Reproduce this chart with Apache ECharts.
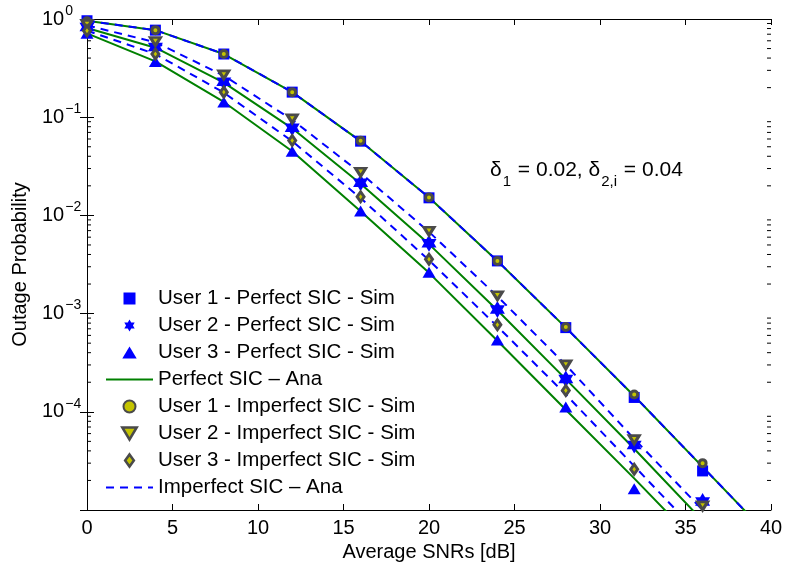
<!DOCTYPE html>
<html>
<head>
<meta charset="utf-8">
<script src="https://cdn.jsdelivr.net/npm/echarts@6/dist/echarts.min.js"></script>
<style>
  html, body { margin: 0; padding: 0; background: #fff; }
  #chart { width: 786px; height: 570px; }
</style>
</head>
<body>
<div id="chart"></div>
<script>
// SNR points (dB) for simulation markers and analytical curves
const snrSim = [0, 4, 8, 12, 16, 20, 24, 28, 32, 36];
const snrAna = [0, 4, 8, 12, 16, 20, 24, 28, 32, 36, 40];

// simulation, perfect SIC
const u1PerfectSim = [0.96, 0.77, 0.44, 0.18, 0.057, 0.0151, 0.00344, 7.2e-4, 1.4e-4, 2.5e-5];
const u2PerfectSim = [0.83, 0.52, 0.23, 0.078, 0.0215, 0.0052, 0.0011, 2.16e-4, 4.6e-5, 1.22e-5];
const u3PerfectSim = [0.715, 0.37, 0.143, 0.045, 0.0111, 0.00263, 5.4e-4, 1.12e-4, 1.65e-5, null];
// simulation, imperfect SIC
const u1ImperfectSim = [0.95, 0.77, 0.44, 0.18, 0.0577, 0.0152, 0.00344, 7.3e-4, 1.5e-4, 3.0e-5];
const u2ImperfectSim = [0.88, 0.59, 0.27, 0.096, 0.0275, 0.0069, 0.00152, 3.0e-4, 5.2e-5, 1.1e-5];
const u3ImperfectSim = [0.76, 0.44, 0.18, 0.058, 0.0155, 0.00357, 7.7e-4, 1.65e-4, 2.6e-5, null];

// analytical curves
const u1Ana = [0.96, 0.77, 0.44, 0.18, 0.057, 0.0152, 0.00344, 7.2e-4, 1.45e-4, 2.75e-5, 5.2e-6];
const u2PerfectAna = [0.81, 0.51, 0.225, 0.077, 0.021, 0.0051, 0.00108, 2.15e-4, 4.2e-5, 7.8e-6, 1.45e-6];
const u3PerfectAna = [0.715, 0.37, 0.143, 0.045, 0.011, 0.0026, 5.3e-4, 1.05e-4, 2.1e-5, 4e-6, 7.5e-7];
const u2ImperfectAna = [0.86, 0.58, 0.265, 0.094, 0.027, 0.0068, 0.0015, 3.0e-4, 5.3e-5, 1.0e-5, 1.9e-6];
const u3ImperfectAna = [0.76, 0.44, 0.178, 0.057, 0.015, 0.0035, 7.4e-4, 1.5e-4, 2.8e-5, 5.2e-6, 1e-6];

// y tick exponents shown as 10^x (bottom decade has no label)
const yExponents = ['0', '\u22121', '\u22122', '\u22123', '\u22124'];

const FONT = 'Liberation Sans, Arial, Helvetica, sans-serif';
const BLUE = '#0000ff';
const GREEN = '#008000';
const YELLOW = '#c4c400';
const GRAY = '#4a4a4a';
const STAR = 'path://M0,-10L2.89,-5L8.66,-5L5.77,0L8.66,5L2.89,5L0,10L-2.89,5L-8.66,5L-5.77,0L-8.66,-5L-2.89,-5Z';
// legend icons (path icons keep their aspect)
const ICON_SQUARE = 'path://M0,0L10,0L10,10L0,10Z';
const ICON_UP = 'path://M6,0L12,10L0,10Z';
const ICON_DOWN = 'path://M0,0L12,0L6,10Z';
const ICON_DIAMOND = 'path://M4,0L8,5.5L4,11L0,5.5Z';
const ICON_CIRCLE = 'path://M5,0A5,5,0,1,1,4.99,0Z';

const pairs = (xs, ys) => xs.map((x, i) => [x, ys[i]]).filter(p => p[1] != null);

// minor ticks of the log axis: 2..9 inside each decade
const minorTicks = [];
for (let e = -5; e < 0; e++) {
  for (let m = 2; m <= 9; m++) minorTicks.push([0, m * Math.pow(10, e)]);
}

const chart = echarts.init(document.getElementById('chart'));

function simSeries(name, ys, symbol, size, style, extra) {
  return Object.assign({
    name: name,
    type: 'scatter',
    data: pairs(snrSim, ys),
    symbol: symbol,
    symbolSize: size,
    itemStyle: Object.assign({ opacity: 1 }, style),
    z: 5
  }, extra || {});
}

function anaSeries(name, ys, color, dashed, z) {
  return {
    name: name,
    type: 'line',
    data: pairs(snrAna, ys),
    symbol: 'none',
    clip: true,
    lineStyle: { color: color, width: 2, type: dashed ? [8, 6] : 'solid' },
    itemStyle: { color: color },
    z: z
  };
}

const hollow = { color: YELLOW, borderColor: GRAY, borderWidth: 3 };
const noMarker = { color: 'rgba(0,0,0,0)', borderWidth: 0 };
const legendHollow = { color: YELLOW, borderColor: GRAY, borderWidth: 2.5, opacity: 1 };

const option = {
  animation: false,
  backgroundColor: '#fff',
  textStyle: { fontFamily: FONT },
  grid: { left: 87, right: 15, top: 19, bottom: 60 },
  legend: {
    left: 105,
    top: 288,
    padding: 0,
    orient: 'vertical',
    itemWidth: 47,
    itemHeight: 12,
    itemGap: 6,
    textStyle: { fontFamily: FONT, fontSize: 20.5, color: '#000', lineHeight: 20 },
    data: [
      { name: 'User 1 - Perfect SIC - Sim', icon: ICON_SQUARE },
      { name: 'User 2 - Perfect SIC - Sim', icon: STAR },
      { name: 'User 3 - Perfect SIC - Sim', icon: ICON_UP },
      { name: 'Perfect SIC \u2013 Ana', itemStyle: noMarker },
      { name: 'User 1 - Imperfect SIC - Sim', icon: ICON_CIRCLE, itemStyle: Object.assign({}, legendHollow, { borderWidth: 2 }) },
      { name: 'User 2 - Imperfect SIC - Sim', icon: ICON_DOWN, itemStyle: legendHollow },
      { name: 'User 3 - Imperfect SIC - Sim', icon: ICON_DIAMOND, itemStyle: legendHollow },
      { name: 'Imperfect SIC \u2013 Ana', itemStyle: noMarker }
    ]
  },
  xAxis: [{
    type: 'value',
    min: 0, max: 40, interval: 5,
    name: 'Average SNRs [dB]',
    nameLocation: 'middle',
    nameGap: 32,
    nameTextStyle: { fontFamily: FONT, fontSize: 20, color: '#000' },
    axisLine: { show: true, lineStyle: { color: '#000', width: 1 } },
    axisTick: { show: true, inside: true, length: 6, lineStyle: { color: '#000' } },
    axisLabel: { fontFamily: FONT, fontSize: 20, color: '#000', margin: 8 },
    splitLine: { show: false }
  }, {
    type: 'value',
    position: 'top',
    min: 0, max: 40, interval: 5,
    axisLine: { show: true, lineStyle: { color: '#000', width: 1 } },
    axisTick: { show: true, inside: true, length: 6, lineStyle: { color: '#000' } },
    axisLabel: { show: false },
    splitLine: { show: false }
  }],
  yAxis: [{
    type: 'log',
    logBase: 10,
    min: 1e-5, max: 1,
    name: 'Outage Probability',
    nameLocation: 'middle',
    nameGap: 57,
    nameTextStyle: { fontFamily: FONT, fontSize: 20, color: '#000' },
    axisLine: { show: true, lineStyle: { color: '#000', width: 1 } },
    axisTick: { show: true, inside: true, length: 7, lineStyle: { color: '#000' } },
    axisLabel: {
      align: 'left',
      margin: 45,
      padding: [0, 0, 5, 0],
      color: '#000',
      formatter: function (v) {
        const e = Math.round(Math.log10(v));
        const sup = yExponents[-e];
        if (sup === undefined) return '';
        return '{b|10}{s|' + sup + '}';
      },
      rich: {
        b: { fontFamily: FONT, fontSize: 20, color: '#000', verticalAlign: 'bottom' },
        s: { fontFamily: FONT, fontSize: 14, color: '#000', verticalAlign: 'bottom', padding: [0, 0, 11, 1] }
      }
    },
    splitLine: { show: false }
  }, {
    type: 'log',
    logBase: 10,
    min: 1e-5, max: 1,
    position: 'right',
    axisLine: { show: true, lineStyle: { color: '#000', width: 1 } },
    axisTick: { show: true, inside: true, length: 7, lineStyle: { color: '#000' } },
    axisLabel: { show: false },
    splitLine: { show: false }
  }],
  graphic: [{
    type: 'text',
    x: 490,
    y: 160,
    style: {
      text: '{n|\u03b4}{sub|1}{n| = 0.02, \u03b4}{sub|2,i}{n| = 0.04}',
      textVerticalAlign: 'top',
      rich: {
        n: { fontFamily: FONT, fontSize: 21, fill: '#000', verticalAlign: 'top' },
        sub: { fontFamily: FONT, fontSize: 15, fill: '#000', verticalAlign: 'top', padding: [14, 1, 0, 1] }
      }
    }
  }],
  series: [
    anaSeries('Perfect SIC \u2013 Ana', u1Ana, GREEN, false, 2),
    anaSeries('Perfect SIC \u2013 Ana', u2PerfectAna, GREEN, false, 2),
    anaSeries('Perfect SIC \u2013 Ana', u3PerfectAna, GREEN, false, 2),
    anaSeries('Imperfect SIC \u2013 Ana', u1Ana, BLUE, true, 3),
    anaSeries('Imperfect SIC \u2013 Ana', u2ImperfectAna, BLUE, true, 3),
    anaSeries('Imperfect SIC \u2013 Ana', u3ImperfectAna, BLUE, true, 3),
    simSeries('User 1 - Perfect SIC - Sim', u1PerfectSim, 'rect', 11, { color: BLUE }),
    simSeries('User 2 - Perfect SIC - Sim', u2PerfectSim, STAR, [15, 17], { color: BLUE }),
    simSeries('User 3 - Perfect SIC - Sim', u3PerfectSim, 'triangle', [13, 11], { color: BLUE }),
    simSeries('User 1 - Imperfect SIC - Sim', u1ImperfectSim, 'circle', 7, hollow, { z: 6 }),
    simSeries('User 2 - Imperfect SIC - Sim', u2ImperfectSim, 'triangle', [10, 8], hollow, { z: 6, symbolRotate: 180 }),
    simSeries('User 3 - Imperfect SIC - Sim', u3ImperfectSim, 'diamond', [7, 10], hollow, { z: 6 }),
    {
      type: 'custom',
      silent: true,
      clip: false,
      data: minorTicks,
      renderItem: function (params, api) {
        const p = api.coord([0, api.value(1)]);
        const r = params.coordSys;
        const ls = { stroke: '#000', lineWidth: 1 };
        return {
          type: 'group',
          children: [
            { type: 'line', shape: { x1: r.x, y1: p[1], x2: r.x + 4, y2: p[1] }, style: ls },
            { type: 'line', shape: { x1: r.x + r.width - 4, y1: p[1], x2: r.x + r.width, y2: p[1] }, style: ls }
          ]
        };
      },
      z: 1
    }
  ]
};

chart.setOption(option);
</script>
</body>
</html>
